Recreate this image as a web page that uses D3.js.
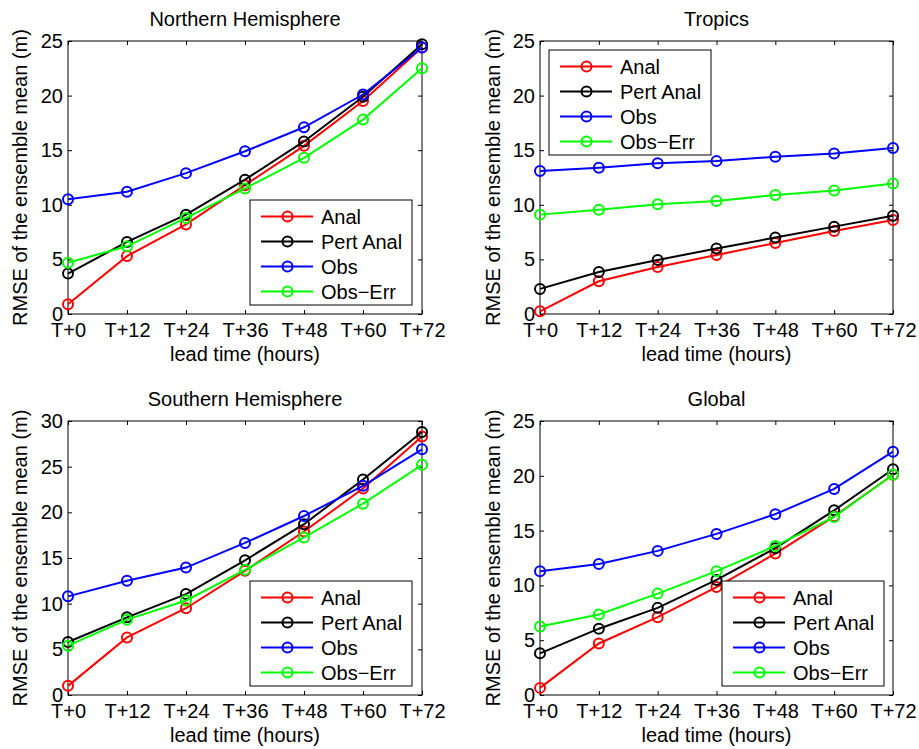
<!DOCTYPE html>
<html>
<head>
<meta charset="utf-8">
<script src="https://cdn.jsdelivr.net/npm/d3@7"></script>
<style>
  body { margin: 0; background: #fff; }
  svg { display: block; font-family: "Liberation Sans", Arial, Helvetica, sans-serif; }
</style>
</head>
<body>
<div class="figure"></div>
<script>
// lead times on the x axis
const leadTimes = ["T+0", "T+12", "T+24", "T+36", "T+48", "T+60", "T+72"];
const seriesNames = ["Anal", "Pert Anal", "Obs", "Obs\u2212Err"];
const seriesColors = ["#ff0000", "#000000", "#0000ff", "#00ff00"];

// Northern Hemisphere
const nhAnal   = [0.9, 5.3, 8.2, 11.8, 15.4, 19.5, 24.4];
const nhPert   = [3.7, 6.6, 9.1, 12.3, 15.8, 19.9, 24.7];
const nhObs    = [10.5, 11.2, 12.9, 14.9, 17.1, 20.1, 24.4];
const nhObsErr = [4.7, 6.2, 8.8, 11.5, 14.3, 17.8, 22.5];

// Tropics
const trAnal   = [0.25, 3.0, 4.3, 5.4, 6.5, 7.6, 8.6];
const trPert   = [2.3, 3.85, 4.95, 6.0, 7.0, 8.0, 9.0];
const trObs    = [13.1, 13.4, 13.8, 14.0, 14.4, 14.7, 15.2];
const trObsErr = [9.1, 9.55, 10.05, 10.35, 10.9, 11.3, 11.95];

// Southern Hemisphere
const shAnal   = [1.0, 6.3, 9.5, 13.6, 17.9, 22.6, 28.3];
const shPert   = [5.8, 8.5, 11.05, 14.75, 18.7, 23.6, 28.8];
const shObs    = [10.8, 12.5, 13.95, 16.65, 19.6, 22.9, 26.9];
const shObsErr = [5.4, 8.25, 10.35, 13.7, 17.25, 20.95, 25.2];

// Global
const glAnal   = [0.65, 4.7, 7.1, 9.85, 12.9, 16.3, 20.1];
const glPert   = [3.8, 6.05, 7.95, 10.5, 13.4, 16.85, 20.6];
const glObs    = [11.3, 11.95, 13.15, 14.7, 16.5, 18.8, 22.2];
const glObsErr = [6.25, 7.35, 9.25, 11.3, 13.6, 16.25, 20.1];

const yMax = [25, 25, 30, 25];
const titles = ["Northern Hemisphere", "Tropics", "Southern Hemisphere", "Global"];

const W = 919, H = 749;

const panels = [
  { title: titles[0], ymax: yMax[0], data: [nhAnal, nhPert, nhObs, nhObsErr],
    box: { l: 68, r: 422, t: 41, b: 314 }, legend: { x: 250, y: 200 }, ylab: 26.5 },
  { title: titles[1], ymax: yMax[1], data: [trAnal, trPert, trObs, trObsErr],
    box: { l: 540, r: 893, t: 41, b: 314 }, legend: { x: 549, y: 50 }, ylab: 500 },
  { title: titles[2], ymax: yMax[2], data: [shAnal, shPert, shObs, shObsErr],
    box: { l: 68, r: 422, t: 421, b: 695 }, legend: { x: 250, y: 581 }, ylab: 26.5 },
  { title: titles[3], ymax: yMax[3], data: [glAnal, glPert, glObs, glObsErr],
    box: { l: 540, r: 893, t: 421, b: 695 }, legend: { x: 722, y: 581 }, ylab: 500 }
];

const svg = d3.select(".figure")
  .append("svg")
  .attr("width", W)
  .attr("height", H);

svg.append("rect").attr("width", W).attr("height", H).attr("fill", "#fff");

const fontSize = 20;
const tick = 4;

panels.forEach(p => {
  const b = p.box;
  const x = d3.scalePoint().domain(leadTimes).range([b.l, b.r]);
  const y = d3.scaleLinear().domain([0, p.ymax]).range([b.b, b.t]);
  const yTicks = d3.range(0, p.ymax + 1, 5);

  const g = svg.append("g");

  // box
  g.append("rect")
    .attr("x", b.l).attr("y", b.t)
    .attr("width", b.r - b.l).attr("height", b.b - b.t)
    .attr("fill", "#fff").attr("stroke", "#000").attr("stroke-width", 1);

  const styleAxis = sel => {
    sel.select(".domain").remove();
    sel.selectAll("line").attr("stroke", "#000");
    sel.selectAll("text").attr("font-size", fontSize).attr("fill", "#000")
      .attr("font-family", "Liberation Sans, Arial, sans-serif");
  };

  g.append("g")
    .attr("transform", `translate(0,${b.b})`)
    .call(d3.axisBottom(x).tickSizeInner(-tick).tickSizeOuter(0).tickPadding(9))
    .call(styleAxis);
  g.append("g")
    .attr("transform", `translate(0,${b.t})`)
    .call(d3.axisTop(x).tickSizeInner(-tick).tickSizeOuter(0).tickFormat(""))
    .call(styleAxis);
  g.append("g")
    .attr("transform", `translate(${b.l},0)`)
    .call(d3.axisLeft(y).tickValues(yTicks).tickSizeInner(-tick).tickSizeOuter(0).tickPadding(5))
    .call(styleAxis);
  g.append("g")
    .attr("transform", `translate(${b.r},0)`)
    .call(d3.axisRight(y).tickValues(yTicks).tickSizeInner(-tick).tickSizeOuter(0).tickFormat(""))
    .call(styleAxis);

  // title and labels
  g.append("text")
    .attr("x", (b.l + b.r) / 2).attr("y", b.t - 15.5)
    .attr("text-anchor", "middle").attr("font-size", fontSize)
    .text(p.title);
  g.append("text")
    .attr("x", (b.l + b.r) / 2).attr("y", b.b + 46.5)
    .attr("text-anchor", "middle").attr("font-size", fontSize)
    .text("lead time (hours)");
  g.append("text")
    .attr("transform", `translate(${p.ylab},${(b.t + b.b) / 2}) rotate(-90)`)
    .attr("text-anchor", "middle").attr("font-size", fontSize)
    .text("RMSE of the ensemble mean (m)");

  // series
  const line = d3.line().x((d, i) => x(leadTimes[i])).y(d => y(d));
  p.data.forEach((vals, k) => {
    const s = g.append("g");
    s.append("path")
      .attr("d", line(vals))
      .attr("fill", "none")
      .attr("stroke", seriesColors[k])
      .attr("stroke-width", 2);
    s.selectAll("circle")
      .data(vals)
      .enter().append("circle")
      .attr("cx", (d, i) => x(leadTimes[i]))
      .attr("cy", d => y(d))
      .attr("r", 5)
      .attr("fill", "none")
      .attr("stroke", seriesColors[k])
      .attr("stroke-width", 2);
  });

  // legend
  const lg = g.append("g").attr("transform", `translate(${p.legend.x},${p.legend.y})`);
  lg.append("rect")
    .attr("width", 162).attr("height", 105)
    .attr("fill", "#fff").attr("stroke", "#000").attr("stroke-width", 1);
  seriesNames.forEach((name, k) => {
    const cy = 16.5 + k * 25;
    lg.append("line")
      .attr("x1", 11).attr("x2", 63).attr("y1", cy).attr("y2", cy)
      .attr("stroke", seriesColors[k]).attr("stroke-width", 2);
    lg.append("circle")
      .attr("cx", 37.5).attr("cy", cy).attr("r", 5)
      .attr("fill", "none").attr("stroke", seriesColors[k]).attr("stroke-width", 2);
    lg.append("text")
      .attr("x", 71).attr("y", cy).attr("dy", "0.35em")
      .attr("font-size", fontSize)
      .text(name);
  });
});
</script>
</body>
</html>
